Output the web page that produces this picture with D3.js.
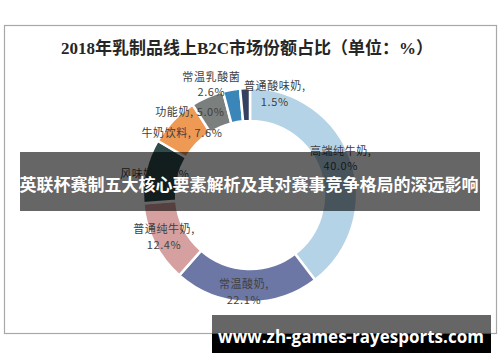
<!DOCTYPE html>
<html><head><meta charset="utf-8">
<script src="https://cdn.jsdelivr.net/npm/d3@7"></script>
<style>
html,body{margin:0;padding:0;background:#fff;}
svg{display:block;}
</style></head>
<body>
<svg id="c" width="500" height="362"></svg>
<script>
// ---- data ----
const title = "2018年乳制品线上B2C市场份额占比（单位：%）";
const categories = ["高端纯牛奶","常温酸奶","普通纯牛奶","风味奶","牛奶饮料","功能奶","常温乳酸菌","普通酸味奶"];
const values = [40.0, 22.1, 12.4, 9.8, 7.6, 5.0, 2.6, 1.5];
const banner = "英联杯赛制五大核心要素解析及其对赛事竞争格局的深远影响";
const watermark = "www.zh-games-rayesports.com";

// ---- styles / layout ----
const colors = ["#b5d3e7","#6c77a5","#d5a09f","#2f4c4a","#ee9a55","#7b7f7e","#3b86b9","#34405f"];
const twoLine = [true,true,true,false,false,false,true,true];
const showComma = [true,true,true,true,true,true,false,true];
const nudge = [[5,-9],[-3,5],[-5,0],[-7,0],[-3,1],[-24,0],[-23,-23],[29,-12]];

const svg = d3.select("#c");
const W = 500;

// frame
svg.append("rect").attr("x",4.5).attr("y",25.5).attr("width",492).attr("height",308)
  .attr("fill","#fff").attr("stroke","#a8a8a8").attr("stroke-width",1.2);

// title
svg.append("text").attr("x",247).attr("y",54).attr("text-anchor","middle")
  .attr("font-family","'Liberation Serif','Noto Sans CJK SC',serif")
  .attr("font-weight","bold").attr("font-size",17).attr("fill","#262626").text(title);

// donut
const cx = 250, cy = 195, rOut = 107, rIn = 74;
const pie = d3.pie().sort(null).value(d => d);
const arcs = pie(values);
const arc = d3.arc().innerRadius(rIn).outerRadius(rOut);
const g = svg.append("g").attr("transform",`translate(${cx},${cy})`);
g.selectAll("path").data(arcs).join("path")
  .attr("d",arc).attr("fill",(d,i)=>colors[i])
  .attr("stroke","#fff").attr("stroke-width",2.5);

// labels
const lab = g.append("g").attr("font-family","'Noto Sans CJK SC','Noto Sans',sans-serif")
  .attr("font-size",11).attr("fill","#404040").attr("text-anchor","middle");
arcs.forEach((d,i)=>{
  const [x,y] = arc.centroid(d);
  const px = x + nudge[i][0], py = y + nudge[i][1];
  const name = categories[i] + (showComma[i] ? "," : "");
  const val = d3.format(".1f")(values[i]) + "%";
  const t = lab.append("text").attr("x",px).attr("y",py).attr("letter-spacing",0.6);
  if (twoLine[i]) {
    t.append("tspan").attr("x",px).attr("dy","-0.2em").text(name);
    t.append("tspan").attr("x",px).attr("dy","1.4em").text(val);
  } else {
    t.attr("dy","0.35em").text(name + " " + val);
  }
});

// banner overlay
svg.append("rect").attr("x",20).attr("y",152).attr("width",460).attr("height",59)
  .attr("fill","rgba(0,0,0,0.6)");
svg.append("text").attr("x",249).attr("y",191).attr("text-anchor","middle")
  .attr("font-family","'Noto Sans CJK SC',sans-serif").attr("font-weight","bold")
  .attr("font-size",17).attr("fill","#fff").text(banner);

// watermark
svg.append("rect").attr("x",212).attr("y",315).attr("width",279).attr("height",19)
  .attr("fill","rgba(0,0,0,0.6)");
svg.append("rect").attr("x",212).attr("y",334).attr("width",279).attr("height",19)
  .attr("fill","#000");
svg.append("text").attr("x",351).attr("y",343).attr("text-anchor","middle")
  .attr("font-family","'Open Sans','Noto Sans',sans-serif").attr("font-weight","bold")
  .attr("font-size",17).attr("fill","#fff").text(watermark);
</script>
</body></html>
